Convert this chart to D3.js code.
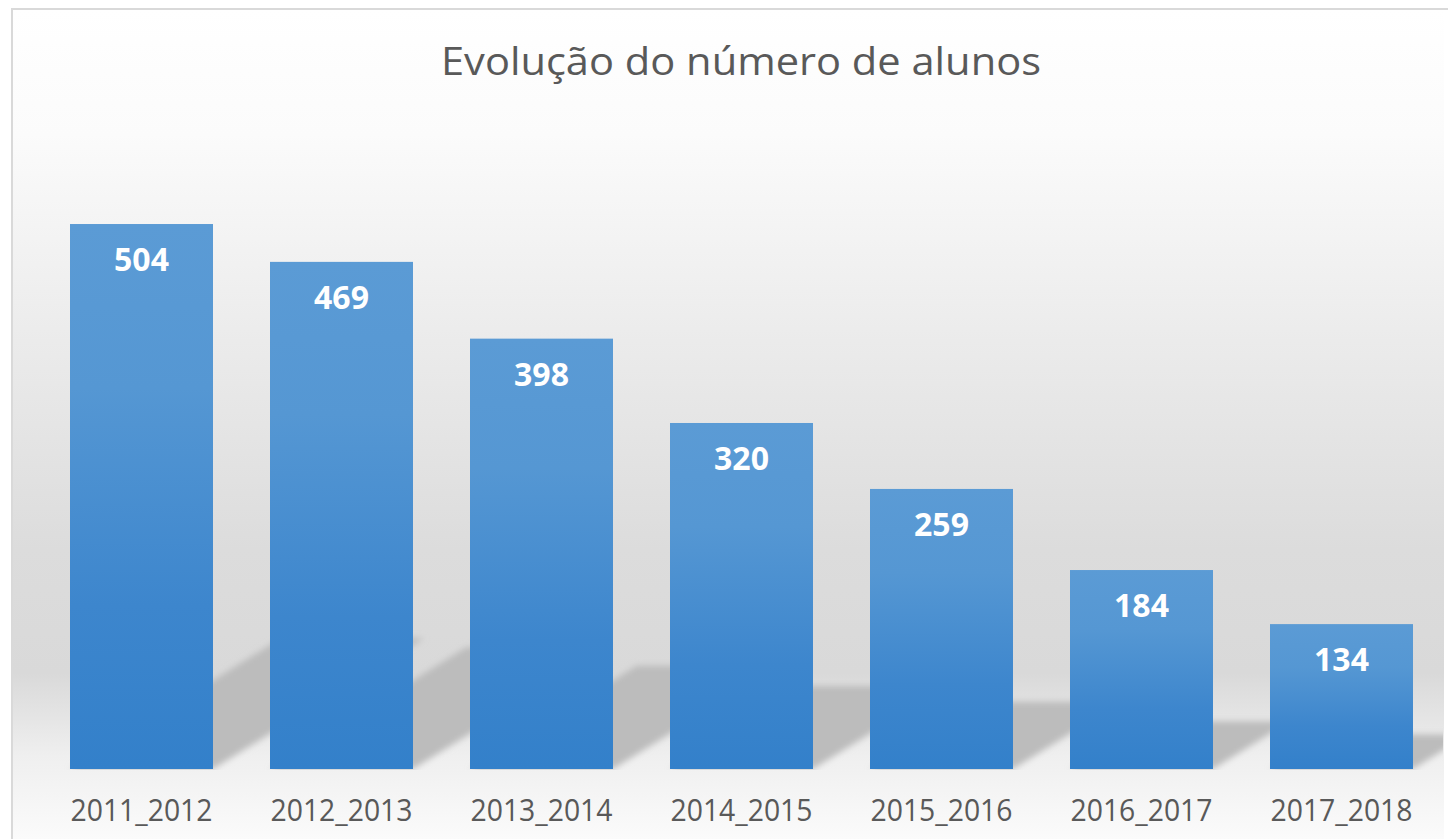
<!DOCTYPE html>
<html>
<head>
<meta charset="utf-8">
<script src="https://cdn.jsdelivr.net/npm/d3@7"></script>
<style>
  html, body { margin: 0; padding: 0; background: #ffffff; }
  svg { display: block; }
</style>
</head>
<body>
<svg id="chart" width="1448" height="839"></svg>
<script>
// ---- data ----
const title = "Evolução do número de alunos";
const categories = ["2011_2012", "2012_2013", "2013_2014", "2014_2015", "2015_2016", "2016_2017", "2017_2018"];
const values = [504, 469, 398, 320, 259, 184, 134];
const yDomain = [0, 600];

// ---- layout ----
const W = 1448, H = 839;
const base = 769;
const svg = d3.select("#chart");
const defs = svg.append("defs");

const x = d3.scaleBand().domain(categories).range([41.5, 1441.5])
  .paddingInner(0.285).paddingOuter(0.1425);
const y = d3.scaleLinear().domain(yDomain).range([base, base - 600 * 1.0813]);

// background gradient
const bg = defs.append("linearGradient").attr("id", "bg")
  .attr("x1", 0).attr("y1", 0).attr("x2", 0).attr("y2", 1);
[[0, "#ffffff"], [0.15, "#fbfbfb"], [0.4, "#ebebeb"], [0.65, "#dcdcdc"],
 [0.8, "#d9d9d9"], [0.9, "#efefef"], [1, "#fbfbfb"]].forEach(([o, c]) =>
  bg.append("stop").attr("offset", o).attr("stop-color", c));

// bar gradient
const bar = defs.append("linearGradient").attr("id", "barg")
  .attr("x1", 0).attr("y1", 0).attr("x2", 0).attr("y2", 1);
[[0, "#5b9bd5"], [0.3, "#5597d3"], [0.7, "#3d86cd"], [1, "#3380ca"]].forEach(([o, c]) =>
  bar.append("stop").attr("offset", o).attr("stop-color", c));

// shadow blur
defs.append("filter").attr("id", "blur")
  .attr("x", "-20%").attr("y", "-20%").attr("width", "140%").attr("height", "140%")
  .append("feGaussianBlur").attr("stdDeviation", 3);

defs.append("clipPath").attr("id", "plotclip")
  .append("rect").attr("x", 13).attr("y", 10).attr("width", 1430).attr("height", base + 1 - 10);

// background + frame
svg.append("rect").attr("x", 13).attr("y", 10).attr("width", 1431).attr("height", H - 10)
  .attr("fill", "url(#bg)");
svg.append("line").attr("x1", 12).attr("x2", W).attr("y1", 9).attr("y2", 9)
  .attr("stroke", "#d9d9d9").attr("stroke-width", 2);
svg.append("line").attr("x1", 12).attr("x2", 12).attr("y1", 8).attr("y2", H)
  .attr("stroke", "#d9d9d9").attr("stroke-width", 2);

// title
svg.append("text").text(title)
  .attr("x", 741).attr("y", 75)
  .attr("text-anchor", "middle")
  .attr("font-family", "'Open Sans', 'Noto Sans', sans-serif")
  .attr("font-weight", 400)
  .attr("font-size", 38)
  .attr("fill", "#595959")
  .attr("textLength", 600).attr("lengthAdjust", "spacingAndGlyphs");

const data = categories.map((c, i) => ({ c, v: values[i] }));

// shadows
const sg = svg.append("g").attr("clip-path", "url(#plotclip)")
  .append("g").attr("filter", "url(#blur)");
const line = d3.line();
sg.selectAll("path").data(data).join("path")
  .attr("fill", "#bcbcbc")
  .attr("d", d => {
    const x0 = x(d.c), x1 = x(d.c) + x.bandwidth();
    const h = (base - y(d.v)) * 0.24;
    const dx = h / 0.62;
    return line([[x0, base], [x1, base], [x1 + dx, base - h], [x0 + dx, base - h]]) + "Z";
  });

// bars
svg.append("g").selectAll("rect").data(data).join("rect")
  .attr("x", d => x(d.c)).attr("y", d => y(d.v))
  .attr("width", x.bandwidth()).attr("height", d => base - y(d.v))
  .attr("fill", "url(#barg)");

// value labels
svg.append("g").selectAll("text").data(data).join("text")
  .text(d => d.v)
  .attr("x", d => x(d.c) + x.bandwidth() / 2)
  .attr("y", d => y(d.v) + 47)
  .attr("text-anchor", "middle")
  .attr("font-family", "'Open Sans', 'Noto Sans', sans-serif")
  .attr("font-weight", 700)
  .attr("font-size", 32)
  .attr("fill", "#ffffff");

// category axis labels
const axis = d3.axisBottom(x).tickSize(0).tickPadding(0);
const ag = svg.append("g").attr("transform", `translate(0, 0)`).call(axis);
ag.select(".domain").remove();
ag.selectAll("text")
  .attr("y", 821).attr("dy", null)
  .attr("font-family", "'Open Sans', 'Noto Sans', sans-serif")
  .attr("font-size", 31)
  .attr("fill", "#595959")
  .attr("textLength", 142).attr("lengthAdjust", "spacingAndGlyphs");
</script>
</body>
</html>
